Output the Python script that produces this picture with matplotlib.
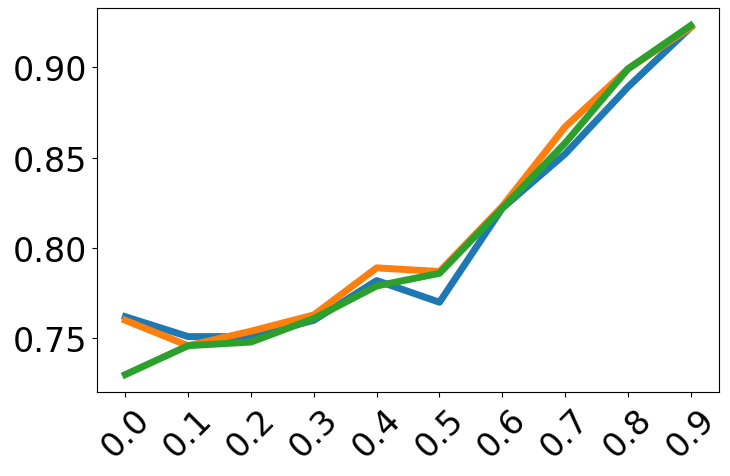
import matplotlib
matplotlib.use("Agg")
import matplotlib.pyplot as plt

x = [0.0, 0.1, 0.2, 0.3, 0.4, 0.5, 0.6, 0.7, 0.8, 0.9]
xlabels = ["0.0", "0.1", "0.2", "0.3", "0.4", "0.5", "0.6", "0.7", "0.8", "0.9"]
blue = [0.762, 0.751, 0.751, 0.760, 0.782, 0.770, 0.822, 0.852, 0.889, 0.922]
orange = [0.760, 0.746, 0.754, 0.763, 0.789, 0.787, 0.823, 0.867, 0.899, 0.922]
green = [0.730, 0.746, 0.748, 0.761, 0.779, 0.786, 0.822, 0.858, 0.899, 0.923]

fig, ax = plt.subplots(figsize=(7.3, 4.77), dpi=100)
fig.subplots_adjust(left=0.133, right=0.985, top=0.981, bottom=0.176)
for s, c in [(blue, "#1f77b4"), (orange, "#ff7f0e"), (green, "#2ca02c")]:
    ax.plot(x, s, color=c, linewidth=5)
ax.set_xticks(x)
ax.set_xticklabels(xlabels, rotation=45, fontsize=24)
ax.set_yticks([0.75, 0.80, 0.85, 0.90])
ax.set_yticklabels(["0.75", "0.80", "0.85", "0.90"], fontsize=24)
fig.savefig("out.png", dpi=100)
